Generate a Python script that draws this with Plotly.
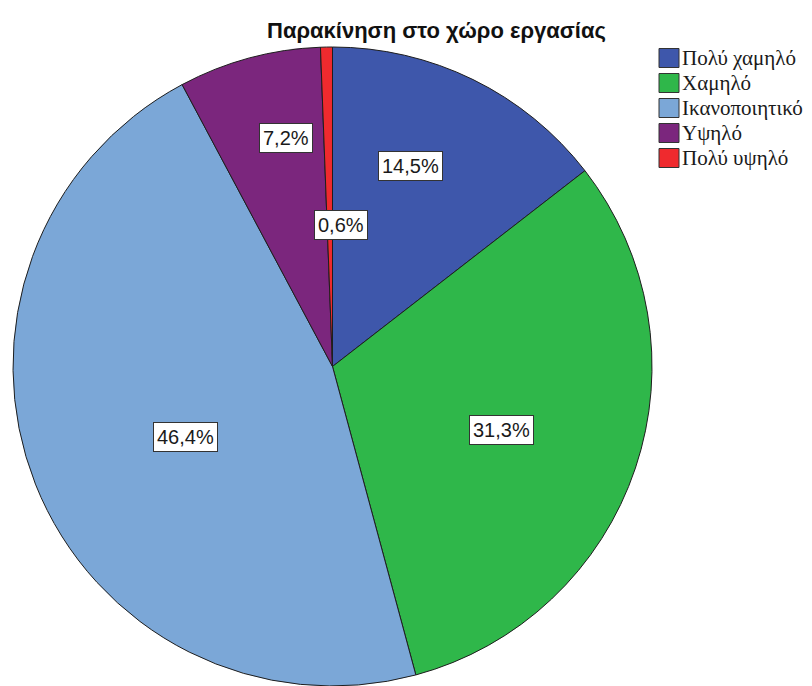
import math
import plotly.graph_objects as go

# Motivation level at the workplace (percent of respondents)
categories = ["Πολύ χαμηλό", "Χαμηλό", "Ικανοποιητικό", "Υψηλό", "Πολύ υψηλό"]
percents = [14.5, 31.3, 46.4, 7.2, 0.6]
label_texts = ["14,5%", "31,3%", "46,4%", "7,2%", "0,6%"]
chart_title = "Παρακίνηση στο χώρο εργασίας"

colors = ["#3e57ab", "#2fb74a", "#7ba7d7", "#7b267d", "#ef2a2e"]

# Figure geometry (pixels)
W, H = 812, 686
CX, CY, R = 332.5, 366.5, 319.5

# Label placement: radial fraction and angular nudge (degrees) per slice
label_radius = [0.672, 0.564, 0.509, 0.73, 0.443]
label_nudge = [-4.9, 2.0, -3.9, 3.6, 4.5]

fig = go.Figure(
    go.Pie(
        labels=categories,
        values=percents,
        sort=False,
        direction="clockwise",
        rotation=0,
        textinfo="none",
        hoverinfo="label+percent",
        marker=dict(colors=colors, line=dict(color="#1e1e1e", width=1)),
        domain=dict(x=[(CX - R) / W, (CX + R) / W], y=[max(0.0, 1 - (CY + R) / H), 1 - (CY - R) / H]),
        showlegend=False,
    )
)

annotations = []
shapes = []

# Boxed percentage labels inside the slices
total = sum(percents)
cum = 0.0
for val, txt, rf, nudge in zip(percents, label_texts, label_radius, label_nudge):
    mid = (cum + val / 2) / total * 360.0 + nudge
    cum += val
    th = math.radians(mid)
    px = CX + rf * R * math.sin(th)
    py = CY - rf * R * math.cos(th)
    annotations.append(dict(
        x=px / W, y=1 - py / H, xref="paper", yref="paper",
        text=txt, showarrow=False, xanchor="center", yanchor="middle",
        font=dict(family="Liberation Sans, Arial, sans-serif", size=20, color="#1a1a1a"),
        bgcolor="white", bordercolor="#333333", borderwidth=1, borderpad=3,
    ))

# Title
annotations.append(dict(
    x=436.5 / W, y=1 - 30 / H, xref="paper", yref="paper",
    text="<b>" + chart_title + "</b>", showarrow=False,
    xanchor="center", yanchor="middle",
    font=dict(family="Liberation Sans, Arial, sans-serif", size=22, color="#111111"),
))

# Legend: coloured squares with serif labels
for i, (cat, col) in enumerate(zip(categories, colors)):
    yc = 58 + 25 * i
    shapes.append(dict(
        type="rect", xref="paper", yref="paper",
        x0=659 / W, x1=679 / W, y0=1 - (yc + 9.5) / H, y1=1 - (yc - 9.5) / H,
        fillcolor=col, line=dict(color="#333333", width=1),
    ))
    annotations.append(dict(
        x=680 / W, y=1 - yc / H, xref="paper", yref="paper",
        text=cat, showarrow=False, xanchor="left", yanchor="middle",
        font=dict(family="Liberation Serif, Times New Roman, serif", size=21, color="#1a1a1a"),
    ))

fig.update_layout(
    width=W, height=H,
    margin=dict(l=0, r=0, t=0, b=0),
    paper_bgcolor="white", plot_bgcolor="white",
    annotations=annotations, shapes=shapes,
)

fig.write_html("out.html")
